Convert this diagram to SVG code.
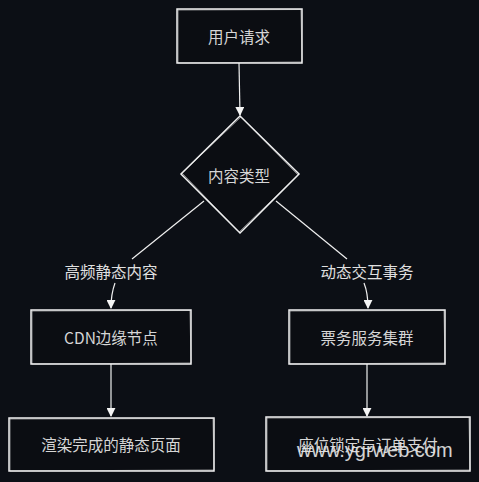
<svg xmlns="http://www.w3.org/2000/svg" width="479" height="482" viewBox="0 0 479 482">
<style>
.bg{fill:#0c0f15}
.box{fill:#0b0d12;stroke:#f2f2f2;stroke-width:1.5}
.box2{fill:none;stroke:#e8e8e8;stroke-width:0.8;opacity:0.7}
.t{font-family:"Noto Sans CJK SC","Liberation Sans",sans-serif;font-size:15.5px;fill:#d6d6d6;text-anchor:middle;dominant-baseline:central}
.lbl{font-family:"Noto Sans CJK SC","Liberation Sans",sans-serif;font-size:15.5px;fill:#e0e0e0;text-anchor:middle;dominant-baseline:central}
.ln{fill:none;stroke:#f0f0f0;stroke-width:1.2}
.wm{font-family:"Liberation Sans",sans-serif;font-size:20px;fill:#e4e4e4;opacity:0.92}
</style>
<defs>
<marker id="ah" viewBox="0 0 10 10" refX="9" refY="5" markerWidth="9" markerHeight="9" markerUnits="userSpaceOnUse" orient="auto">
<path d="M0,0 L10,5 L0,10 Z" fill="#f4f4f4"/>
</marker>
</defs>
<rect class="bg" x="0" y="0" width="479" height="482"/>
<g id="connectors">
<line class="ln" x1="239" y1="63" x2="240" y2="115" marker-end="url(#ah)"/>
<line class="ln" x1="204" y1="201" x2="132" y2="259"/>
<line class="ln" x1="276" y1="201" x2="347" y2="259"/>
<path class="ln" d="M115,283 Q111,294 111,308" marker-end="url(#ah)"/>
<path class="ln" d="M364,283 Q368,293 368,308" marker-end="url(#ah)"/>
<line class="ln" x1="111" y1="364" x2="111" y2="416" marker-end="url(#ah)"/>
<line class="ln" x1="367" y1="364" x2="367" y2="416" marker-end="url(#ah)"/>
<text class="lbl" x="111" y="271">高频静态内容</text>
<text class="lbl" x="367" y="271">动态交互事务</text>
</g>
<g id="n1">
<rect class="box" x="177" y="9" width="125" height="54"/>
<path class="box2" d="M178,10 L301,9.5 L302,62 L178,63 Z"/>
<text class="t" x="239" y="36">用户请求</text>
</g>
<g id="n2">
<path class="box" d="M240,116 L299,174 L240,233 L181,174 Z"/>
<path class="box2" d="M241,117 L298,175 L239,232 L182,173 Z"/>
<text class="t" x="239" y="175">内容类型</text>
</g>
<g id="n3">
<rect class="box" x="31" y="310" width="160" height="54"/>
<path class="box2" d="M32,311 L190,310.5 L191,363 L32,364 Z"/>
<text class="t" x="111" y="337">CDN边缘节点</text>
</g>
<g id="n4">
<rect class="box" x="289" y="310" width="156" height="54"/>
<path class="box2" d="M290,311 L444,310.5 L445,363 L290,364 Z"/>
<text class="t" x="367" y="337">票务服务集群</text>
</g>
<g id="n5">
<rect class="box" x="9" y="418" width="205" height="53"/>
<path class="box2" d="M10,419 L213,418.5 L214,470 L10,471 Z"/>
<text class="t" x="111" y="444">渲染完成的静态页面</text>
</g>
<g id="n6">
<rect class="box" x="266" y="417" width="204" height="54"/>
<path class="box2" d="M267,418 L469,417.5 L470,470 L267,471 Z"/>
<text class="t" x="368" y="444">座位锁定与订单支付</text>
</g>
<text class="wm" x="297" y="457">www.ygrweb.com</text>
</svg>
